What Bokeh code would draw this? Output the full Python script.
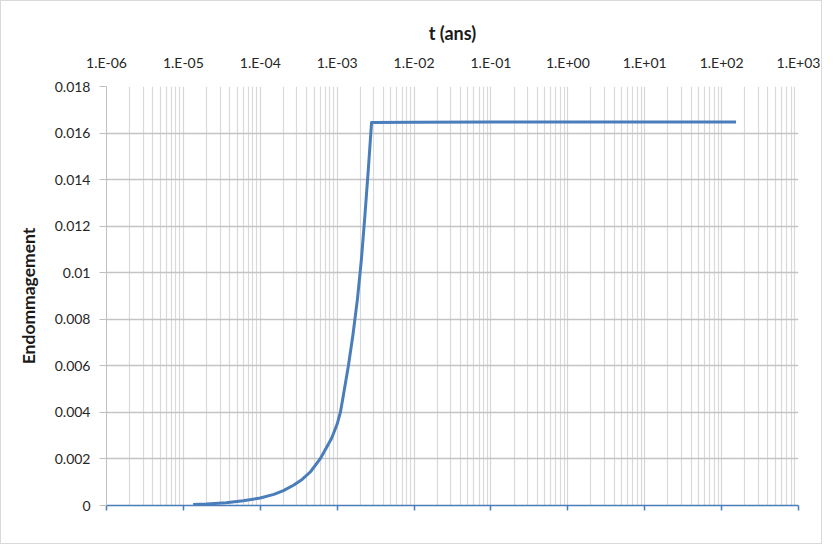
from bokeh.plotting import figure
from bokeh.models import (Range1d, LogAxis, FixedTicker, CustomJSTickFormatter,
                          ColumnDataSource)
from bokeh.embed import file_html
from bokeh.resources import INLINE

# ---- data ----
t_ans = [1.34e-5, 2e-5, 3.6e-5, 6e-5, 1e-4, 1.5e-4, 2e-4, 2.7e-4, 3.5e-4,
         4.5e-4, 6e-4, 7.3e-4, 8.5e-4, 1e-3, 1.1e-3, 1.2e-3, 1.4e-3, 1.6e-3,
         1.84e-3, 2.07e-3, 2.3e-3, 2.55e-3, 2.8e-3,
         1e-2, 1e-1, 1.0, 10.0, 100.0, 154.0]
endommagement = [0.00004, 0.00006, 0.00012, 0.0002, 0.00032, 0.00048, 0.00064,
                 0.00087, 0.00112, 0.00145, 0.0020, 0.0025, 0.0029, 0.0035,
                 0.0040, 0.0047, 0.0060, 0.0073, 0.0089, 0.0106, 0.0125, 0.0145,
                 0.01645, 0.01646, 0.01647, 0.01648, 0.01648, 0.01648, 0.01648]

x_ticks = [1e-6, 1e-5, 1e-4, 1e-3, 1e-2, 1e-1, 1e0, 1e1, 1e2, 1e3]
x_tick_labels = ["1.E-06", "1.E-05", "1.E-04", "1.E-03", "1.E-02", "1.E-01",
                 "1.E+00", "1.E+01", "1.E+02", "1.E+03"]
x_minor_ticks = [m * d for d in x_ticks[:-1] for m in range(2, 10)]

y_ticks = [0, 0.002, 0.004, 0.006, 0.008, 0.01, 0.012, 0.014, 0.016, 0.018]
y_tick_labels = ["0", "0.002", "0.004", "0.006", "0.008", "0.01", "0.012",
                 "0.014", "0.016", "0.018"]

x_title = "t (ans)"
y_title = "Endommagement"

FONT = "Lato"
BLUE = "#4A7EBB"

p = figure(width=822, height=544, output_backend="svg", toolbar_location=None,
           x_axis_type="log", x_axis_location="above",
           x_range=Range1d(1e-6, 1e3), y_range=Range1d(0, 0.018),
           min_border_left=105, min_border_top=85, min_border_right=25,
           min_border_bottom=40)
p.styles = {"border": "1px solid #d9d9d9"}
p.outline_line_color = None
p.background_fill_color = "white"
p.border_fill_color = "white"

xticker = FixedTicker(ticks=x_ticks, minor_ticks=x_minor_ticks)
xfmt = CustomJSTickFormatter(args=dict(tvals=x_ticks, tlabels=x_tick_labels), code="""
let best = 0, bd = Infinity;
for (let i = 0; i < tvals.length; i++) {
  const d = Math.abs(Math.log10(tick) - Math.log10(tvals[i]));
  if (d < bd) { bd = d; best = i; }
}
return tlabels[best];
""")
yfmt = CustomJSTickFormatter(args=dict(tvals=y_ticks, tlabels=y_tick_labels), code="""
let best = 0, bd = Infinity;
for (let i = 0; i < tvals.length; i++) {
  const d = Math.abs(tick - tvals[i]);
  if (d < bd) { bd = d; best = i; }
}
return tlabels[best];
""")

# top axis (labels + title)
xa = p.xaxis[0]
xa.ticker = xticker
xa.formatter = xfmt
xa.axis_line_color = None
xa.major_tick_line_color = None
xa.minor_tick_line_color = None
xa.major_tick_out = 0
xa.major_tick_in = 0
xa.major_label_standoff = 12
xa.major_label_text_font = FONT
xa.major_label_text_font_size = "14px"
xa.major_label_text_color = "#262626"
xa.axis_label = x_title
xa.axis_label_text_font = FONT
xa.axis_label_text_font_style = "bold"
xa.axis_label_text_font_size = "18px"
xa.axis_label_text_color = "#1a1a1a"
xa.axis_label_standoff = 7

# bottom axis (blue line with ticks, no labels)
xb = LogAxis(ticker=xticker)
xb.axis_line_color = BLUE
xb.axis_line_width = 1.5
xb.major_tick_line_color = BLUE
xb.major_tick_line_width = 1.5
xb.major_tick_out = 5
xb.major_tick_in = 0
xb.minor_tick_line_color = None
xb.major_label_text_font_size = "0px"
xb.major_label_text_color = None
p.add_layout(xb, "below")

# left axis
ya = p.yaxis[0]
ya.ticker = FixedTicker(ticks=y_ticks)
ya.formatter = yfmt
ya.axis_line_color = "#bfbfbf"
ya.major_tick_line_color = "#bfbfbf"
ya.major_tick_out = 7
ya.major_tick_in = 0
ya.minor_tick_line_color = None
ya.major_label_standoff = 9
ya.major_label_text_font = FONT
ya.major_label_text_font_size = "14px"
ya.major_label_text_color = "#262626"
ya.axis_label = y_title
ya.axis_label_text_font = FONT
ya.axis_label_text_font_style = "bold"
ya.axis_label_text_font_size = "17.5px"
ya.axis_label_text_color = "#1a1a1a"
ya.axis_label_standoff = 13

# grids
p.xgrid.ticker = xticker
p.xgrid.grid_line_color = "#d6d6d6"
p.xgrid.grid_line_width = 1.2
p.xgrid.minor_grid_line_color = "#d9d9d9"
p.xgrid.minor_grid_line_width = 1.2
p.ygrid.ticker = FixedTicker(ticks=y_ticks)
p.ygrid.grid_line_color = "#c4c4c4"
p.ygrid.grid_line_width = 1.3

src = ColumnDataSource(data=dict(t=t_ans, d=endommagement))
p.line("t", "d", source=src, line_color=BLUE, line_width=3, line_join="round")

open("out.html", "w").write(file_html(p, INLINE))
